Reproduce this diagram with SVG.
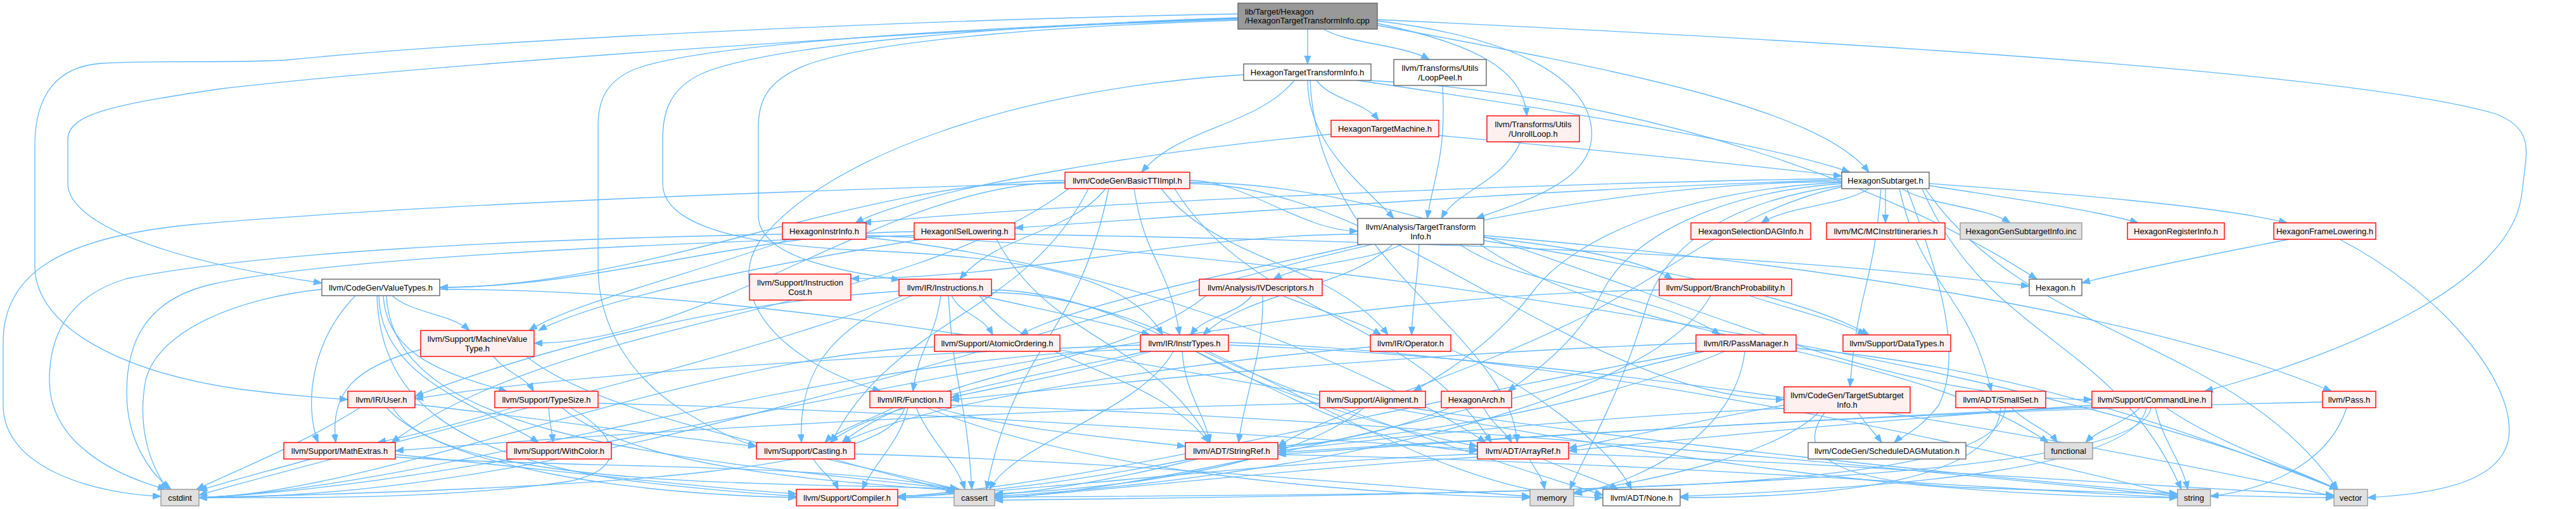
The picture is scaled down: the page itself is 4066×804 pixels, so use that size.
<svg xmlns="http://www.w3.org/2000/svg" width="4066" height="804" viewBox="0 0 4066 804">
<style>
#edges path{fill:none;stroke:#63b8ff;stroke-width:1.3;marker-end:url(#a)}
rect{stroke-width:1.4}
.w rect{fill:#ffffff;stroke:#666666}
.r rect{fill:#fff0f0;stroke:#ff0000}
.g rect{fill:#e0e0e0;stroke:#999999}
.k rect{fill:#999999;stroke:#666666}
text{font-family:"Liberation Sans",Arial,Helvetica,sans-serif;font-size:13px;fill:#000000;text-anchor:middle}
text.s{text-anchor:start}
</style>
<defs>
<marker id="a" markerUnits="userSpaceOnUse" markerWidth="14" markerHeight="11" refX="13" refY="5" orient="auto" viewBox="0 0 14 11"><path d="M0,0 L13,5 L0,10 z" fill="#63b8ff" stroke="#63b8ff" stroke-width="1"/></marker>
</defs>
<rect x="0" y="0" width="4066" height="804" fill="#ffffff" stroke="none"/>
<g id="edges">
<path d="M2064,46 L2064,101"/>
<path d="M2089,46 C2131,70 2214,70 2256,94"/>
<path d="M2174,37 C2330,70 2405,110 2410,183"/>
<path d="M2174,40 C2550,110 2870,170 2950,272"/>
<path d="M2174,33 C2400,60 2520,130 2512,220 C2505,290 2400,320 2330,345"/>
<path d="M2174,31 C2800,60 3700,110 3940,180 C3990,200 3990,230 3986,260 L3980,310 C3960,450 3700,560 3480,618"/>
<path d="M1954,22 C1500,30 800,60 450,95 C350,100 250,95 160,100 C90,105 55,150 55,230 L55,420 C55,520 200,590 380,615 C450,624 500,628 549,631"/>
<path d="M1954,30 C1500,45 700,100 350,140 C180,165 107,180 107,220 L107,290 C107,350 250,410 508,447"/>
<path d="M1954,32 C1700,40 1400,60 1280,100 C1210,125 1197,160 1197,200 L1197,340 C1197,400 1300,425 1420,442"/>
<path d="M1954,28 C1600,40 1200,70 1100,120 C1055,145 1046,180 1046,220 L1046,290 C1046,350 1150,385 1350,395 C1600,405 1780,430 1835,529"/>
<path d="M1954,29 C1500,45 1100,70 1000,110 C955,130 944,160 944,200 L944,420 C944,520 1000,600 1080,650 C1130,680 1160,695 1194,705"/>
<path d="M2078,127 C2102,159 2152,159 2176,190"/>
<path d="M2043,127 C1983,200 1862,200 1802,272"/>
<path d="M2064,127 C2064,230 2150,290 2200,345"/>
<path d="M2068,127 C2080,420 2380,520 2395,699"/>
<path d="M2143,127 C2500,180 2800,230 2920,272"/>
<path d="M2160,127 C2600,150 3000,300 3215,441"/>
<path d="M1963,118 C1600,140 1300,250 1200,380 C1150,450 1200,560 1390,618"/>
<path d="M2277,135 C2283,250 2262,280 2253,345"/>
<path d="M2400,224 C2370,290 2300,300 2275,345"/>
<path d="M2271,214 C2500,235 2750,260 2907,278"/>
<path d="M2101,212 C1800,240 1450,300 1350,352"/>
<path d="M1681,289 C1300,300 700,320 300,355 C100,375 5,430 5,540 L5,640 C5,740 150,780 254,784"/>
<path d="M1681,285 C1352,285 1023,454 694,454"/>
<path d="M1681,288 C1402,288 1122,542 843,542"/>
<path d="M1687,298 C1420,499 885,499 618,699"/>
<path d="M1718,298 C1617,499 1414,499 1312,699"/>
<path d="M1745,298 C1688,370 1573,370 1515,441"/>
<path d="M1790,298 C1808,414 1844,414 1862,529"/>
<path d="M1833,298 C1922,414 2101,414 2191,529"/>
<path d="M1878,285 C1966,285 2055,365 2143,365"/>
<path d="M1854,298 C1979,499 2229,499 2354,699"/>
<path d="M1878,290 C2191,290 2503,631 2816,631"/>
<path d="M1878,288 C2353,288 2827,631 3302,631"/>
<path d="M1750,298 C1702,536 1605,536 1557,773"/>
<path d="M2950,298 C2908,325 2823,325 2780,352"/>
<path d="M2976,298 L2976,352"/>
<path d="M3002,298 C3045,325 3130,325 3173,352"/>
<path d="M3045,293 C3150,310 3300,330 3375,352"/>
<path d="M3045,290 C3250,305 3500,325 3610,352"/>
<path d="M2998,298 C3034,458 3107,458 3143,618"/>
<path d="M2907,295 C2750,330 2650,420 2500,500 C2300,600 2100,650 2017,705"/>
<path d="M2969,298 C2957,455 2932,455 2920,611"/>
<path d="M2907,290 C2700,305 2570,380 2530,460 C2490,540 2420,590 2380,618"/>
<path d="M2907,288 C2650,300 2480,380 2420,460 C2360,540 2280,590 2231,618"/>
<path d="M2907,293 C2720,320 2630,390 2600,480 C2560,620 2500,720 2478,773"/>
<path d="M3034,298 C3136,536 3341,536 3443,773"/>
<path d="M3039,298 C3202,536 3527,536 3690,773"/>
<path d="M3010,298 C3060,430 3100,560 3060,640 C3030,680 3000,690 2990,699"/>
<path d="M2907,287 C2043,287 1178,786 314,786"/>
<path d="M2907,282 C2400,290 1700,320 1362,352"/>
<path d="M2907,284 C2400,300 1900,340 1602,360"/>
<path d="M1245,378 C1100,430 900,480 835,522"/>
<path d="M1235,370 C800,378 400,400 200,440 C100,470 78,540 78,600 C78,700 180,750 262,773"/>
<path d="M1367,375 C1800,420 2200,600 2345,699"/>
<path d="M1367,372 C2200,400 3300,600 3690,773"/>
<path d="M1602,370 C2200,380 2800,400 3203,452"/>
<path d="M1573,378 C1657,539 1826,539 1910,699"/>
<path d="M1443,366 C1193,366 944,454 694,454"/>
<path d="M1455,378 C1200,420 950,470 850,522"/>
<path d="M1443,372 C1000,385 500,410 330,450 C230,475 200,540 200,620 C200,700 240,750 270,773"/>
<path d="M2212,386 C2162,414 2061,414 2010,441"/>
<path d="M2143,370 C1876,370 1610,440 1343,440"/>
<path d="M2198,386 C2123,458 1974,458 1899,529"/>
<path d="M2150,386 C1950,430 1700,480 1610,529"/>
<path d="M2240,386 C2237,458 2231,458 2228,529"/>
<path d="M2304,386 C2407,458 2612,458 2715,529"/>
<path d="M2342,380 C2600,420 2850,470 2950,529"/>
<path d="M2342,375 C2480,390 2590,410 2640,441"/>
<path d="M2342,372 C2900,420 3400,500 3680,618"/>
<path d="M2336,386 C2560,543 3009,543 3233,699"/>
<path d="M3613,378 C3500,400 3350,430 3286,447"/>
<path d="M3693,378 C3850,460 3970,600 3960,690 C3950,760 3850,780 3737,786"/>
<path d="M619,467 C650,495 711,495 741,522"/>
<path d="M605,467 C610,560 700,590 800,618"/>
<path d="M598,467 C600,600 760,640 850,699"/>
<path d="M561,467 C490,540 480,640 502,699"/>
<path d="M508,457 C380,470 250,520 230,600 C215,680 240,740 265,773"/>
<path d="M595,467 C600,620 700,720 1000,760 C1100,772 1200,780 1257,784"/>
<path d="M610,467 C620,680 1000,720 1515,773"/>
<path d="M694,457 C1608,457 2522,786 3437,786"/>
<path d="M1502,467 C1518,498 1551,498 1567,529"/>
<path d="M1547,467 C1650,490 1750,510 1815,529"/>
<path d="M1485,467 C1474,542 1452,542 1441,618"/>
<path d="M1419,460 C1100,480 800,570 655,626"/>
<path d="M1440,467 C1300,520 1260,600 1265,699"/>
<path d="M1497,467 C1506,620 1525,620 1534,773"/>
<path d="M1425,467 C1200,560 600,700 314,782"/>
<path d="M1546,467 C1637,583 1818,583 1908,699"/>
<path d="M1565,458 C1821,458 2076,712 2332,712"/>
<path d="M1565,462 C1887,462 2208,786 2530,786"/>
<path d="M1976,467 C1951,498 1903,498 1879,529"/>
<path d="M1993,467 C1995,560 1965,620 1955,699"/>
<path d="M2024,467 C2080,490 2140,505 2180,529"/>
<path d="M1904,467 C1760,583 1473,583 1329,699"/>
<path d="M2761,467 C2830,490 2900,505 2945,529"/>
<path d="M2700,467 C2600,650 2000,760 1570,784"/>
<path d="M2619,458 C1800,470 900,760 314,786"/>
<path d="M779,563 C800,590 830,595 842,618"/>
<path d="M664,552 C560,580 520,620 530,699"/>
<path d="M831,563 C950,660 1300,720 1512,773"/>
<path d="M1475,548 C1100,560 600,780 314,786"/>
<path d="M1800,545 C1400,560 900,590 655,630"/>
<path d="M1817,555 C1700,590 1580,610 1501,628"/>
<path d="M1810,555 C1600,600 1380,640 1310,699"/>
<path d="M1852,555 C1800,650 1600,700 1562,773"/>
<path d="M1866,555 C1870,620 1900,650 1910,699"/>
<path d="M1887,555 C2000,620 2200,680 2332,705"/>
<path d="M1900,555 C2100,650 2400,740 2530,782"/>
<path d="M1939,541 C2500,560 3100,700 3437,782"/>
<path d="M1939,545 C2600,570 3300,700 3684,784"/>
<path d="M1800,552 C1300,560 700,770 314,786"/>
<path d="M2290,552 C2400,600 2540,700 2575,773"/>
<path d="M2163,548 C1800,580 1450,640 1330,699"/>
<path d="M2677,542 C2200,560 1800,600 1501,632"/>
<path d="M2722,555 C2500,650 2200,690 2017,705"/>
<path d="M2754,555 C2740,680 2600,760 2484,780"/>
<path d="M2680,555 C2200,640 1700,770 1417,784"/>
<path d="M2690,555 C2300,650 1800,780 1570,786"/>
<path d="M2835,550 C3200,580 3500,700 3690,773"/>
<path d="M568,644 C480,700 380,740 310,773"/>
<path d="M655,639 C850,660 1050,690 1194,705"/>
<path d="M610,644 C700,740 1000,780 1257,786"/>
<path d="M620,644 C700,780 1300,760 1515,773"/>
<path d="M810,644 C720,670 640,690 596,699"/>
<path d="M866,644 C868,670 871,680 873,699"/>
<path d="M887,644 C1000,740 1300,760 1510,775"/>
<path d="M901,644 C980,690 990,740 900,760 C700,790 450,786 314,786"/>
<path d="M944,637 C1500,650 2000,690 2332,710"/>
<path d="M1410,644 C1370,665 1320,680 1302,699"/>
<path d="M1433,644 C1420,700 1380,730 1361,773"/>
<path d="M1446,644 C1470,700 1510,730 1523,773"/>
<path d="M1428,644 C1400,740 1000,770 314,786"/>
<path d="M1477,644 C1600,680 1750,690 1871,705"/>
<path d="M1463,644 C1700,740 2100,780 2415,786"/>
<path d="M1501,640 C2200,660 3000,740 3437,784"/>
<path d="M2083,637 C1500,650 900,690 624,712"/>
<path d="M2153,644 C2050,730 1800,770 1570,780"/>
<path d="M2225,644 C2600,700 3100,750 3437,780"/>
<path d="M2342,644 C2355,670 2375,680 2386,699"/>
<path d="M2288,644 C2200,680 2100,700 2017,708"/>
<path d="M2933,652 C2945,670 2960,685 2970,699"/>
<path d="M2816,640 C2700,660 2570,690 2476,708"/>
<path d="M2816,645 C2500,660 2200,690 2017,712"/>
<path d="M2870,652 C2800,720 2600,760 2484,778"/>
<path d="M2880,652 C2830,720 2900,760 3100,770 C3400,780 3600,786 3684,786"/>
<path d="M3175,644 C3200,670 3235,680 3247,699"/>
<path d="M3158,644 C3150,760 2900,786 2652,786"/>
<path d="M3165,644 C3160,780 2500,780 1417,786"/>
<path d="M3378,644 C3350,670 3310,680 3292,699"/>
<path d="M3402,644 C3415,700 3445,730 3453,773"/>
<path d="M3419,644 C3500,700 3620,740 3690,773"/>
<path d="M3302,640 C3000,660 2700,690 2476,712"/>
<path d="M3302,643 C2900,660 2400,690 2017,715"/>
<path d="M3388,644 C3370,740 3000,770 2652,784"/>
<path d="M3395,644 C3380,760 2500,780 1570,790"/>
<path d="M3704,644 C3680,720 3600,770 3489,784"/>
<path d="M3666,635 C3000,650 2400,690 2017,718"/>
<path d="M491,725 C420,745 360,760 314,775"/>
<path d="M624,718 C850,740 1100,770 1257,780"/>
<path d="M624,722 C900,740 1300,730 1512,773"/>
<path d="M1284,725 C1295,745 1315,755 1323,773"/>
<path d="M1316,725 C1400,750 1470,765 1506,778"/>
<path d="M1349,717 C1800,730 2200,770 2415,784"/>
<path d="M1880,725 C1700,760 1550,780 1417,784"/>
<path d="M1890,725 C1750,760 1650,775 1570,782"/>
<path d="M2017,718 C2600,730 3100,770 3437,786"/>
<path d="M2414,725 C2425,745 2435,755 2438,773"/>
<path d="M2435,725 C2480,745 2530,760 2554,773"/>
<path d="M2332,717 C2000,730 1700,770 1417,786"/>
<path d="M2332,722 C2050,740 1800,770 1570,787"/>
<path d="M2476,717 C2900,730 3400,770 3684,782"/>
</g>
<g id="n-root" class="k"><rect x="1954" y="5" width="220" height="41"/><text class="s" x="1965" y="23">lib/Target/Hexagon</text><text class="s" x="1965" y="37">/HexagonTargetTransformInfo.cpp</text></g>
<g id="n-htti" class="w"><rect x="1963" y="101" width="201" height="26"/><text x="2063.5" y="119">HexagonTargetTransformInfo.h</text></g>
<g id="n-looppeel" class="w"><rect x="2200" y="94" width="146" height="41"/><text x="2273" y="112">llvm/Transforms/Utils</text><text x="2273" y="126.5">/LoopPeel.h</text></g>
<g id="n-tm" class="r"><rect x="2101" y="190" width="170" height="26"/><text x="2186" y="208">HexagonTargetMachine.h</text></g>
<g id="n-unroll" class="r"><rect x="2347" y="183" width="146" height="41"/><text x="2420" y="201">llvm/Transforms/Utils</text><text x="2420" y="215.5">/UnrollLoop.h</text></g>
<g id="n-btti" class="r"><rect x="1681" y="272" width="197" height="26"/><text x="1779.5" y="290">llvm/CodeGen/BasicTTIImpl.h</text></g>
<g id="n-subtarget" class="w"><rect x="2907" y="272" width="138" height="26"/><text x="2976" y="290">HexagonSubtarget.h</text></g>
<g id="n-instrinfo" class="r"><rect x="1235" y="352" width="132" height="26"/><text x="1301" y="370">HexagonInstrInfo.h</text></g>
<g id="n-isel" class="r"><rect x="1443" y="352" width="159" height="26"/><text x="1522.5" y="370">HexagonISelLowering.h</text></g>
<g id="n-tti" class="w"><rect x="2143" y="345" width="199" height="41"/><text x="2242.5" y="363">llvm/Analysis/TargetTransform</text><text x="2242.5" y="377.5">Info.h</text></g>
<g id="n-sdag" class="r"><rect x="2669" y="352" width="189" height="26"/><text x="2763.5" y="370">HexagonSelectionDAGInfo.h</text></g>
<g id="n-mcii" class="r"><rect x="2883" y="352" width="187" height="26"/><text x="2976.5" y="370">llvm/MC/MCInstrItineraries.h</text></g>
<g id="n-geninc" class="g"><rect x="3094" y="352" width="192" height="26"/><text x="3190" y="370">HexagonGenSubtargetInfo.inc</text></g>
<g id="n-reginfo" class="r"><rect x="3358" y="352" width="153" height="26"/><text x="3434.5" y="370">HexagonRegisterInfo.h</text></g>
<g id="n-framel" class="r"><rect x="3589" y="352" width="161" height="26"/><text x="3669.5" y="370">HexagonFrameLowering.h</text></g>
<g id="n-valuetypes" class="w"><rect x="508" y="441" width="186" height="26"/><text x="601" y="459">llvm/CodeGen/ValueTypes.h</text></g>
<g id="n-icost" class="r"><rect x="1183" y="433" width="160" height="41"/><text x="1263" y="451">llvm/Support/Instruction</text><text x="1263" y="465.5">Cost.h</text></g>
<g id="n-instructions" class="r"><rect x="1419" y="441" width="146" height="26"/><text x="1492" y="459">llvm/IR/Instructions.h</text></g>
<g id="n-ivd" class="r"><rect x="1893" y="441" width="194" height="26"/><text x="1990" y="459">llvm/Analysis/IVDescriptors.h</text></g>
<g id="n-bp" class="r"><rect x="2619" y="441" width="209" height="26"/><text x="2723.5" y="459">llvm/Support/BranchProbability.h</text></g>
<g id="n-hexagon" class="w"><rect x="3203" y="441" width="83" height="26"/><text x="3244.5" y="459">Hexagon.h</text></g>
<g id="n-mvt" class="r"><rect x="664" y="522" width="179" height="41"/><text x="753.5" y="540">llvm/Support/MachineValue</text><text x="753.5" y="554.5">Type.h</text></g>
<g id="n-atomic" class="r"><rect x="1475" y="529" width="198" height="26"/><text x="1574" y="547">llvm/Support/AtomicOrdering.h</text></g>
<g id="n-instrtypes" class="r"><rect x="1800" y="529" width="139" height="26"/><text x="1869.5" y="547">llvm/IR/InstrTypes.h</text></g>
<g id="n-operator" class="r"><rect x="2163" y="529" width="127" height="26"/><text x="2226.5" y="547">llvm/IR/Operator.h</text></g>
<g id="n-passmanager" class="r"><rect x="2677" y="529" width="158" height="26"/><text x="2756" y="547">llvm/IR/PassManager.h</text></g>
<g id="n-datatypes" class="r"><rect x="2909" y="529" width="170" height="26"/><text x="2994" y="547">llvm/Support/DataTypes.h</text></g>
<g id="n-user" class="r"><rect x="549" y="618" width="106" height="26"/><text x="602" y="636">llvm/IR/User.h</text></g>
<g id="n-typesize" class="r"><rect x="781" y="618" width="163" height="26"/><text x="862.5" y="636">llvm/Support/TypeSize.h</text></g>
<g id="n-function" class="r"><rect x="1373" y="618" width="128" height="26"/><text x="1437" y="636">llvm/IR/Function.h</text></g>
<g id="n-alignment" class="r"><rect x="2083" y="618" width="167" height="26"/><text x="2166.5" y="636">llvm/Support/Alignment.h</text></g>
<g id="n-arch" class="r"><rect x="2275" y="618" width="111" height="26"/><text x="2330.5" y="636">HexagonArch.h</text></g>
<g id="n-tsi" class="r"><rect x="2816" y="611" width="199" height="41"/><text x="2915.5" y="629">llvm/CodeGen/TargetSubtarget</text><text x="2915.5" y="643.5">Info.h</text></g>
<g id="n-smallset" class="r"><rect x="3087" y="618" width="142" height="26"/><text x="3158" y="636">llvm/ADT/SmallSet.h</text></g>
<g id="n-commandline" class="r"><rect x="3302" y="618" width="189" height="26"/><text x="3396.5" y="636">llvm/Support/CommandLine.h</text></g>
<g id="n-pass" class="r"><rect x="3666" y="618" width="84" height="26"/><text x="3708" y="636">llvm/Pass.h</text></g>
<g id="n-mathextras" class="r"><rect x="448" y="699" width="176" height="26"/><text x="536" y="717">llvm/Support/MathExtras.h</text></g>
<g id="n-withcolor" class="r"><rect x="800" y="699" width="165" height="26"/><text x="882.5" y="717">llvm/Support/WithColor.h</text></g>
<g id="n-casting" class="r"><rect x="1194" y="699" width="155" height="26"/><text x="1271.5" y="717">llvm/Support/Casting.h</text></g>
<g id="n-stringref" class="r"><rect x="1871" y="699" width="146" height="26"/><text x="1944" y="717">llvm/ADT/StringRef.h</text></g>
<g id="n-arrayref" class="r"><rect x="2332" y="699" width="144" height="26"/><text x="2404" y="717">llvm/ADT/ArrayRef.h</text></g>
<g id="n-sdm" class="w"><rect x="2854" y="699" width="249" height="26"/><text x="2978.5" y="717">llvm/CodeGen/ScheduleDAGMutation.h</text></g>
<g id="n-functional" class="g"><rect x="3227" y="699" width="76" height="26"/><text x="3265" y="717">functional</text></g>
<g id="n-cstdint" class="g"><rect x="254" y="773" width="60" height="26"/><text x="284" y="791">cstdint</text></g>
<g id="n-compiler" class="r"><rect x="1257" y="773" width="160" height="26"/><text x="1337" y="791">llvm/Support/Compiler.h</text></g>
<g id="n-cassert" class="g"><rect x="1506" y="773" width="64" height="26"/><text x="1538" y="791">cassert</text></g>
<g id="n-memory" class="g"><rect x="2415" y="773" width="69" height="26"/><text x="2449.5" y="791">memory</text></g>
<g id="n-none" class="w"><rect x="2530" y="773" width="122" height="26"/><text x="2591" y="791">llvm/ADT/None.h</text></g>
<g id="n-string" class="g"><rect x="3437" y="773" width="52" height="26"/><text x="3463" y="791">string</text></g>
<g id="n-vector" class="g"><rect x="3684" y="773" width="53" height="26"/><text x="3710.5" y="791">vector</text></g>
</svg>
